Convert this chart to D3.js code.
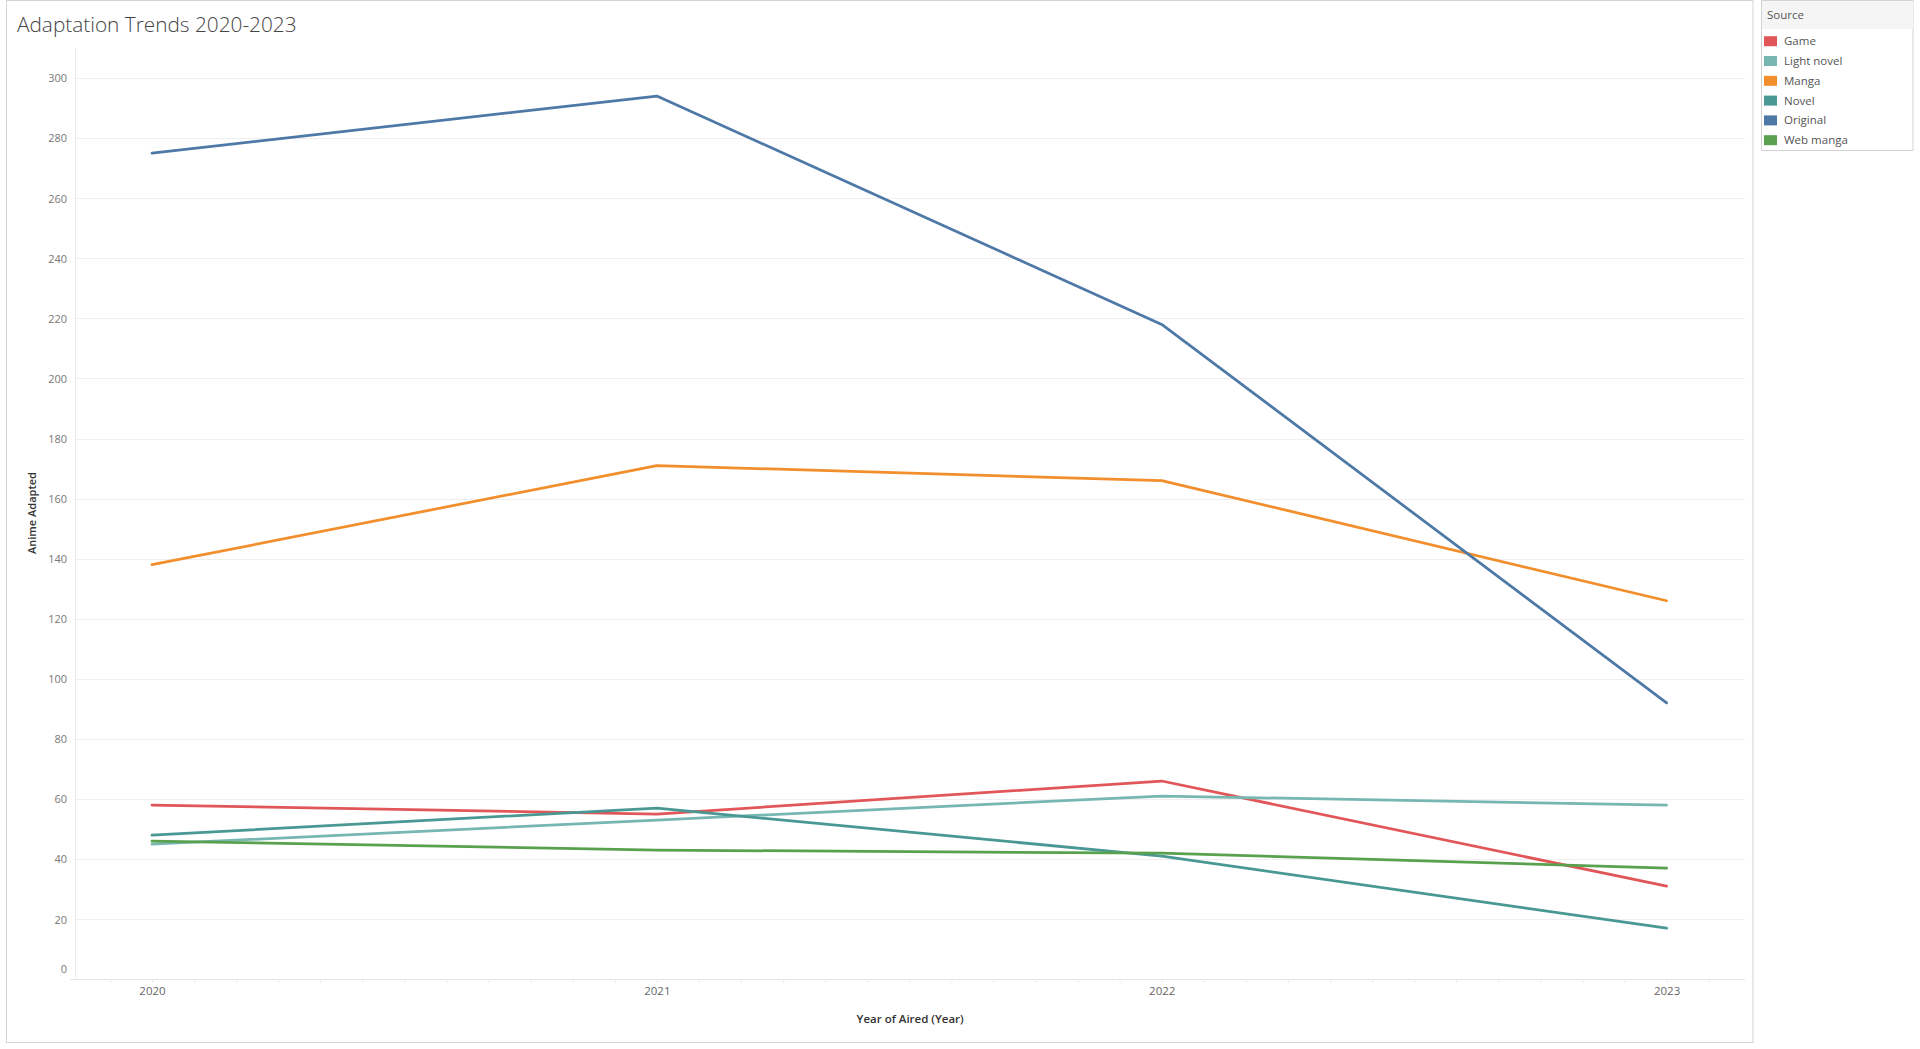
<!DOCTYPE html>
<html>
<head>
<meta charset="utf-8">
<script src="https://cdn.jsdelivr.net/npm/d3@7"></script>
<style>
  html, body { margin: 0; padding: 0; background: #fff; }
  svg { display: block; font-family: "Open Sans", Lato, sans-serif; }
</style>
</head>
<body>
<svg id="chart" width="1920" height="1049"></svg>
<script>
// ---- data ----
const years = [2020, 2021, 2022, 2023];
const sources = ["Game", "Light novel", "Manga", "Novel", "Original", "Web manga"];
const gameValues = [58, 55, 66, 31];
const lightNovelValues = [45, 53, 61, 58];
const mangaValues = [138, 171, 166, 126];
const novelValues = [48, 57, 41, 17];
const originalValues = [275, 294, 218, 92];
const webMangaValues = [46, 43, 42, 37];
const yTicks = [0, 20, 40, 60, 80, 100, 120, 140, 160, 180, 200, 220, 240, 260, 280, 300];
const xTickLabels = ["2020", "2021", "2022", "2023"];
const colors = ["#e15759", "#76b7b2", "#f28e2b", "#499894", "#4e79a7", "#59a14f"];

const seriesValues = [gameValues, lightNovelValues, mangaValues, novelValues, originalValues, webMangaValues];
const series = sources.map((s, i) => ({
  name: s, color: colors[i],
  points: years.map((y, j) => ({ year: y, value: seriesValues[i][j] }))
}));

const FONT = "'Open Sans', Lato, sans-serif";
const svg = d3.select("#chart");

// worksheet frame
svg.append("rect").attr("x", 6.5).attr("y", 0.5).attr("width", 1746.5).attr("height", 1042)
  .attr("fill", "none").attr("stroke", "#d4d4d4").attr("stroke-width", 1);

// title
svg.append("text").attr("x", 17).attr("y", 32)
  .attr("font-size", 20.8).attr("font-weight", 300).attr("fill", "#444")
  .text("Adaptation Trends 2020-2023");

const plot = { left: 75.3, right: 1745, top: 48, bottom: 979.3 };
const x = d3.scaleLinear().domain([2020, 2023]).range([152, 1666.6]);
const y = d3.scaleLinear().domain([0, 310]).range([plot.bottom, plot.top]);

// gridlines
svg.append("g").selectAll("line").data(yTicks.filter(t => t > 0)).join("line")
  .attr("x1", plot.left).attr("x2", plot.right)
  .attr("y1", d => Math.round(y(d)) + 0.5).attr("y2", d => Math.round(y(d)) + 0.5)
  .attr("stroke", "#efefef").attr("stroke-width", 1);

// left axis line (plot border)
svg.append("line").attr("x1", 75.5).attr("x2", 75.5).attr("y1", plot.top).attr("y2", plot.bottom)
  .attr("stroke", "#ececec");

// bottom axis line
svg.append("line").attr("x1", 70).attr("x2", plot.right)
  .attr("y1", 979.5).attr("y2", 979.5).attr("stroke", "#e6e6e6");

// y axis labels
const yAxis = d3.axisLeft(y).tickValues(yTicks).tickSize(0).tickPadding(0).tickFormat(d3.format("d"));
const yg = svg.append("g").attr("transform", "translate(67,0)").call(yAxis);
yg.select(".domain").remove();
yg.selectAll("text").attr("font-size", 11).attr("fill", "#777").attr("font-family", FONT)
  .attr("dy", d => d === 0 ? "-0.6em" : "0.35em");

// x axis minor ticks (monthly)
const x0 = x.invert(plot.left), x1 = x.invert(plot.right);
const monthTicks = d3.range(Math.ceil(x0 * 12), Math.floor(x1 * 12) + 1).map(m => m / 12);
const xMinor = d3.axisBottom(x).tickValues(monthTicks).tickSize(3).tickFormat("");
const xmg = svg.append("g").attr("transform", "translate(0,980)").call(xMinor);
xmg.select(".domain").remove();
xmg.selectAll("line").attr("stroke", "#ebebeb");

// x axis labels
const xAxis = d3.axisBottom(x).tickValues(years).tickSize(0).tickPadding(0).tickFormat((d, i) => xTickLabels[i]);
const xg = svg.append("g").attr("transform", "translate(0,987)").call(xAxis);
xg.select(".domain").remove();
xg.selectAll("text").attr("font-size", 11.5).attr("fill", "#666").attr("font-family", FONT);

// axis titles
svg.append("text").attr("transform", "translate(36,513) rotate(-90)")
  .attr("text-anchor", "middle").attr("font-size", 11).attr("font-weight", 600).attr("fill", "#333")
  .text("Anime Adapted");
svg.append("text").attr("x", (plot.left + plot.right) / 2).attr("y", 1023)
  .attr("text-anchor", "middle").attr("font-size", 11.5).attr("font-weight", 600).attr("fill", "#333")
  .text("Year of Aired (Year)");

// lines
const line = d3.line().x(d => x(d.year)).y(d => y(d.value));
svg.append("g").selectAll("path").data(series).join("path")
  .attr("d", d => line(d.points))
  .attr("fill", "none").attr("stroke", d => d.color)
  .attr("stroke-width", 2.75).attr("stroke-linejoin", "round").attr("stroke-linecap", "round");

// legend
const lg = svg.append("g");
lg.append("rect").attr("x", 1761.5).attr("y", 0.5).attr("width", 151.5).attr("height", 150)
  .attr("fill", "#fff").attr("stroke", "#d4d4d4");
lg.append("rect").attr("x", 1762).attr("y", 1).attr("width", 151).attr("height", 28).attr("fill", "#f5f5f5");
lg.append("text").attr("x", 1767).attr("y", 19).attr("font-size", 11.5).attr("fill", "#555").text("Source");
const items = lg.selectAll("g.item").data(series).join("g").attr("class", "item")
  .attr("transform", (d, i) => `translate(1764,${41.2 + i * 19.8})`);
items.append("rect").attr("x", 0).attr("y", -5).attr("width", 13).attr("height", 10).attr("fill", d => d.color);
items.append("text").attr("x", 20).attr("y", 4).attr("font-size", 11.5).attr("fill", "#555").text(d => d.name);
</script>
</body>
</html>
